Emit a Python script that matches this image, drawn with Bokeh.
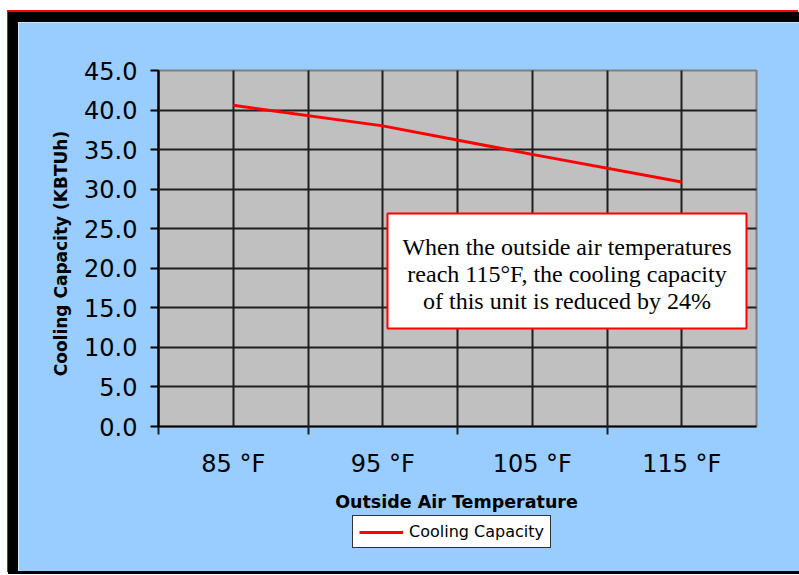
import math
from bokeh.plotting import figure
from bokeh.models import (Range1d, FixedTicker, NumeralTickFormatter, Legend, LegendItem,
                          BoxAnnotation, Label)
from bokeh.embed import file_html
from bokeh.resources import INLINE

# ---- data ----
temps = [85, 95, 105, 115]
capacity = [40.6, 38.0, 34.4, 30.9]
x_tick_labels = ["85 °F", "95 °F", "105 °F", "115 °F"]
x_divisions = [80, 90, 100, 110]
y_ticks = [0, 5, 10, 15, 20, 25, 30, 35, 40, 45]
y_inner = [5, 10, 15, 20, 25, 30, 35, 40]
x_limits = (80, 120)
y_limits = (0, 45)
series_name = "Cooling Capacity"
x_title = "Outside Air Temperature"
y_title = "Cooling Capacity (KBTUh)"
note_lines = ["When the outside air temperatures",
              "reach 115°F, the cooling capacity",
              "of this unit is reduced by 24%"]

# ---- layout constants (pixels) ----
ORIGIN_X, ORIGIN_Y = 18, 22          # page position of canvas top-left
CANVAS_W, CANVAS_H = 791, 562
PLOT_L, PLOT_T, PLOT_W, PLOT_H = 140, 48, 598, 356

BLUE = "#99CCFF"
GRAY = "#C0C0C0"
SANS = "DejaVu Sans"

sx = PLOT_W / (x_limits[1] - x_limits[0])
sy = PLOT_H / (y_limits[1] - y_limits[0])
x_start = x_limits[0] - PLOT_L / sx
x_end = x_start + CANVAS_W / sx
y_end = y_limits[1] + PLOT_T / sy
y_start = y_end - CANVAS_H / sy


def X(px):
    return x_start + (px - ORIGIN_X) / sx


def Y(py):
    return y_end - (py - ORIGIN_Y) / sy


p = figure(width=CANVAS_W, height=CANVAS_H, output_backend="svg", toolbar_location=None,
           title=None, x_range=Range1d(x_start, x_end), y_range=Range1d(y_start, y_end),
           min_border_left=0, min_border_right=0, min_border_top=0, min_border_bottom=0,
           styles={"position": "relative", "left": "8px", "top": "12px",
                   "border-left": "10px solid black", "border-top": "10px solid black",
                   "border-bottom": "3px solid black",
                   "box-shadow": "-1px -2px 0 0 #ff0000"})
p.background_fill_color = BLUE
p.border_fill_color = BLUE
p.outline_line_color = None
for g in p.grid:
    g.visible = False

# plot area
plot_area = BoxAnnotation(left=x_limits[0], right=x_limits[1], bottom=y_limits[0], top=y_limits[1],
                          level="image", fill_color=GRAY, fill_alpha=1.0,
                          line_color="#808080", line_width=2, line_alpha=1.0)
p.add_layout(plot_area)

r = p.line(temps, capacity, line_color="#FF0000", line_width=3)
r.level = "overlay"

# x axis (ticks drawn inward serve as vertical grid lines)
xa = p.xaxis[0]
xa.fixed_location = y_limits[0]
xa.bounds = x_limits
xa.ticker = FixedTicker(ticks=temps, minor_ticks=x_divisions)
xa.major_label_overrides = {t: l for t, l in zip(temps, x_tick_labels)}
xa.major_tick_line_color = "#1e1e1e"
xa.major_tick_line_width = 2
xa.major_tick_out = 0
xa.major_tick_in = PLOT_H
xa.minor_tick_line_color = "#1e1e1e"
xa.minor_tick_line_width = 2
xa.minor_tick_out = 8
xa.minor_tick_in = PLOT_H
xa.axis_line_color = "black"
xa.axis_line_width = 2
xa.major_label_text_font = SANS
xa.major_label_text_font_size = "24px"
xa.major_label_text_color = "black"
xa.major_label_standoff = 15

# y axis (inward minor ticks serve as horizontal grid lines)
ya = p.yaxis[0]
ya.fixed_location = x_limits[0]
ya.bounds = y_limits
ya.ticker = FixedTicker(ticks=y_ticks, minor_ticks=y_inner)
ya.formatter = NumeralTickFormatter(format="0.0")
ya.major_tick_line_color = "black"
ya.major_tick_line_width = 2
ya.major_tick_out = 8
ya.major_tick_in = 0
ya.minor_tick_line_color = "#1e1e1e"
ya.minor_tick_line_width = 2
ya.minor_tick_out = 0
ya.minor_tick_in = PLOT_W
ya.axis_line_color = "black"
ya.axis_line_width = 2
ya.major_label_text_font = SANS
ya.major_label_text_font_size = "24px"
ya.major_label_text_color = "black"
ya.major_label_standoff = 13

# axis titles
p.add_layout(Label(x=X(456), y=Y(501.5), text=x_title, text_align="center",
                   text_baseline="middle", text_font=SANS, text_font_style="bold",
                   text_font_size="17.5px", text_color="black"))
p.add_layout(Label(x=X(60), y=Y(253), text=y_title, text_align="center",
                   text_baseline="middle", text_font=SANS, text_font_style="bold",
                   text_font_size="17px", text_color="black", angle=math.pi / 2))

# annotation box
box = BoxAnnotation(left=X(387), right=X(746), bottom=Y(328), top=Y(213),
                    fill_color="white", fill_alpha=1.0,
                    line_color="#FF0000", line_width=2, line_alpha=1.0)
p.add_layout(box)
for txt, py in zip(note_lines, [246.7, 273.3, 300.0]):
    p.add_layout(Label(x=X(566.5), y=Y(py), text=txt, text_align="center",
                       text_baseline="alphabetic", text_font="Liberation Serif",
                       text_font_size="24px", text_color="black"))

# legend
legend = Legend(items=[LegendItem(label=series_name, renderers=[r])],
                location=(352 - ORIGIN_X, ORIGIN_Y + CANVAS_H - 548), margin=0, padding=6,
                glyph_width=44, glyph_height=16, label_standoff=6,
                label_text_font=SANS, label_text_font_size="16px",
                label_text_color="black",
                background_fill_color="white", background_fill_alpha=1.0,
                border_line_color="#333333", border_line_width=1.5,
                border_line_alpha=1.0)
p.add_layout(legend, "center")

open("out.html", "w").write(file_html(p, INLINE))
